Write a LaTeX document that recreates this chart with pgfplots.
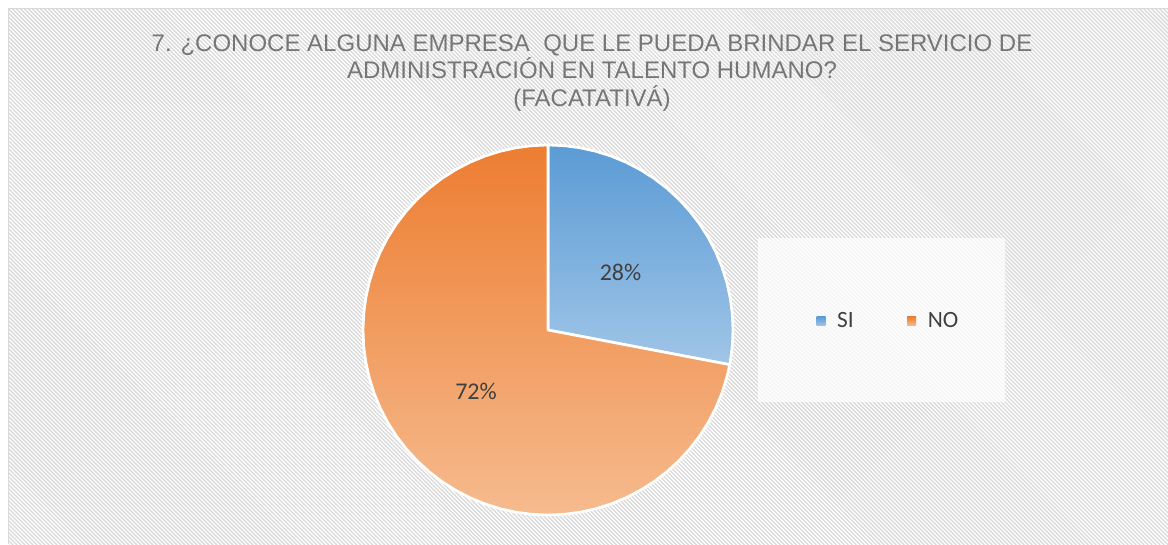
\documentclass[border=0pt]{standalone}
\usepackage{pgfplots}
\pgfplotsset{compat=1.18}
\usepackage{fontspec}
\setmainfont{Liberation Sans}
\newfontfamily\carlito{Carlito}
\usetikzlibrary{patterns.meta}
\definecolor{titlegray}{RGB}{118,118,118}
\definecolor{labelgray}{RGB}{64,64,64}
\definecolor{siTop}{RGB}{91,155,213}
\definecolor{siBot}{RGB}{160,197,231}
\definecolor{noTop}{RGB}{237,125,49}
\definecolor{noBot}{RGB}{246,187,142}
\definecolor{hatch}{RGB}{218,218,218}
\definecolor{framec}{RGB}{217,217,217}
\begin{document}
\begin{tikzpicture}[x=0.75pt,y=0.75pt]
\useasboundingbox (0,0) rectangle (1168,544);
\fill[white] (0,0) rectangle (1168,544);
\fill[pattern={Lines[angle=-45,distance=2.12pt,line width=1pt]},pattern color=hatch] (9,0) rectangle (1168,535);
\draw[framec,line width=1.1pt] (8.7,0) -- (8.7,535.3) -- (1168,535.3);
\fill[white,fill opacity=0.75] (758,142) rectangle (1005,306);
\node[anchor=base,font=\fontsize{18}{20}\selectfont,text=titlegray] at (592,492) {7. ¿CONOCE ALGUNA EMPRESA\ \ QUE LE PUEDA BRINDAR EL SERVICIO DE};
\node[anchor=base,font=\fontsize{18}{20}\selectfont,text=titlegray] at (592,465) {ADMINISTRACIÓN EN TALENTO HUMANO?};
\node[anchor=base,font=\fontsize{18}{20}\selectfont,text=titlegray] at (592,437.5) {(FACATATIVÁ)};
\begin{axis}[at={(411pt,160.5pt)},anchor=center,
  width=277.5pt,height=277.5pt,scale only axis,
  xmin=-1,xmax=1,ymin=-1,ymax=1,hide axis,clip=false,
  data cs=polar,
  legend columns=2,
  legend style={at={(1.421,0.524)},anchor=center,draw=none,fill=none,
    font=\carlito\fontsize{17.5}{20}\selectfont,text=labelgray,
    /tikz/every even column/.append style={column sep=38pt}},
  legend image code/.code={\path[#1,draw=none] (0pt,-3.4pt) rectangle (6.8pt,3.4pt); \path (12.5pt,0pt);},
]
\addplot[draw=white,line width=2pt,line join=round,top color=siTop,bottom color=siBot] coordinates {
(0,0) (90,1) (85,1) (80,1) (75,1) (70,1) (65,1) (60,1) (55,1) (50,1) (45,1) (40,1) (35,1) (30,1) (25,1) (20,1) (15,1) (10,1) (5,1) (0,1) (-5,1) (-10,1) (-10.8,1)
} -- cycle;
\addlegendentry{SI}
\addplot[draw=white,line width=2pt,line join=round,top color=noTop,bottom color=noBot] coordinates {
(0,0) (-10.8,1) (-15,1) (-20,1) (-25,1) (-30,1) (-35,1) (-40,1) (-45,1) (-50,1) (-55,1) (-60,1) (-65,1) (-70,1) (-75,1) (-80,1) (-85,1) (-90,1) (-95,1) (-100,1) (-105,1) (-110,1) (-115,1) (-120,1) (-125,1) (-130,1) (-135,1) (-140,1) (-145,1) (-150,1) (-155,1) (-160,1) (-165,1) (-170,1) (-175,1) (-180,1) (-185,1) (-190,1) (-195,1) (-200,1) (-205,1) (-210,1) (-215,1) (-220,1) (-225,1) (-230,1) (-235,1) (-240,1) (-245,1) (-250,1) (-255,1) (-260,1) (-265,1) (-270,1)
} -- cycle;
\addlegendentry{NO}
\node[font=\carlito\fontsize{18}{20}\selectfont,text=labelgray] at (axis cs:0.392,0.314) {28\%};
\node[font=\carlito\fontsize{18}{20}\selectfont,text=labelgray] at (axis cs:-0.389,-0.330) {72\%};
\end{axis}
\end{tikzpicture}
\end{document}
